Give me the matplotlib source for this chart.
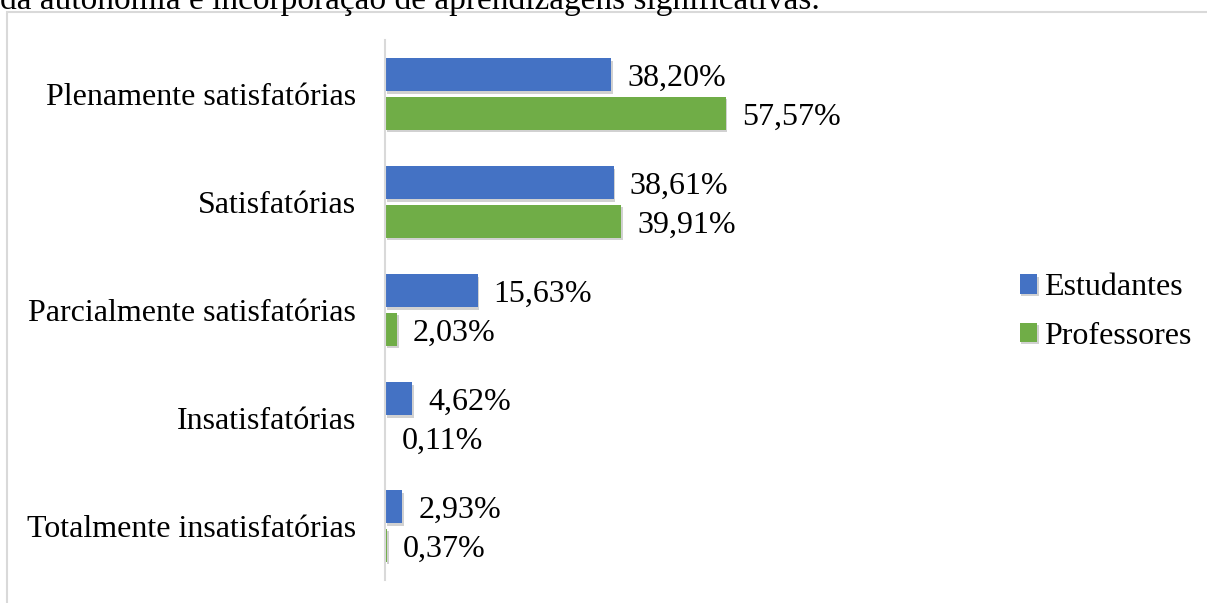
import matplotlib
matplotlib.use("Agg")
import matplotlib.pyplot as plt
import matplotlib.patheffects as pe
from matplotlib.patches import Rectangle
import numpy as np

categories = [
    "Plenamente satisfatórias",
    "Satisfatórias",
    "Parcialmente satisfatórias",
    "Insatisfatórias",
    "Totalmente insatisfatórias",
]
estudantes = [38.20, 38.61, 15.63, 4.62, 2.93]
professores = [57.57, 39.91, 2.03, 0.11, 0.37]
series_names = ["Estudantes", "Professores"]

plt.rcParams["font.family"] = ["Liberation Serif", "DejaVu Serif"]

W, H = 1207, 603
fig = plt.figure(figsize=(W / 100, H / 100), dpi=100)

# axes placed in pixel terms
x0, x1 = 385, 977
y_top, y_bot = 40, 580
ax = fig.add_axes([x0 / W, 1 - y_bot / H, (x1 - x0) / W, (y_bot - y_top) / H])

y = np.arange(len(categories))
h = 0.305
off = 0.18
shadow = [pe.SimplePatchShadow(offset=(1.2, -1.8), shadow_rgbFace="#000000", alpha=0.18), pe.Normal()]

b1 = ax.barh(y - off, estudantes, height=h, color="#4472C4", label=series_names[0])
b2 = ax.barh(y + off, professores, height=h, color="#70AD47", label=series_names[1])
for bars in (b1, b2):
    for p in bars:
        p.set_path_effects(shadow)

fs = 23
for vals, yy in ((estudantes, y - off), (professores, y + off)):
    for v, yc in zip(vals, yy):
        ax.annotate(f"{v:.2f}%".replace(".", ","), (v, yc), xytext=(11.5, -3),
                    textcoords="offset points", va="center", ha="left", fontsize=fs)

ax.set_xlim(0, 100)
ax.set_ylim(len(categories) - 0.5, -0.5)
ax.set_yticks(y)
ax.set_yticklabels(categories, fontsize=fs)
ax.tick_params(axis="y", length=0, pad=21)
ax.set_xticks([])
for s in ("top", "right", "bottom"):
    ax.spines[s].set_visible(False)
ax.spines["left"].set_color("#d9d9d9")
ax.spines["left"].set_linewidth(1.5)

ax.legend(loc="center left", bbox_to_anchor=(1007 / W, 1 - 312 / H),
          bbox_transform=fig.transFigure, frameon=False, fontsize=fs,
          handlelength=0.55, handleheight=0.55, handletextpad=0.2,
          labelspacing=0.6, borderaxespad=0)

# chart border
fig.patches.append(Rectangle((7 / W, -0.05), 1.1, 1 - 12 / H + 0.05,
                             transform=fig.transFigure, fill=False,
                             edgecolor="#d9d9d9", linewidth=1.5))

# clipped caption line from the page above
fig.text(0.0, 1 - 9 / H, "da autonomia e incorporação de aprendizagens significativas.",
         fontsize=24, ha="left", va="baseline")

fig.savefig("out.png", dpi=100)
